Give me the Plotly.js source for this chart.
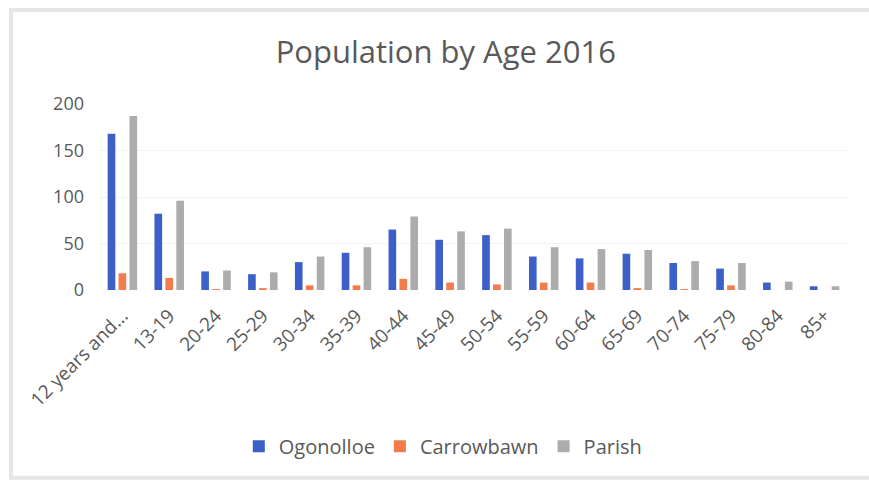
<!DOCTYPE html>
<html>
<head>
<meta charset="utf-8">
<script src="https://cdn.plot.ly/plotly-3.0.1.min.js"></script>
<style>
html,body{margin:0;padding:0;background:#ffffff;}
#chart{width:869px;height:481px;}
</style>
</head>
<body>
<div id="chart"></div>
<script>
const categories = ["12 years and...","13-19","20-24","25-29","30-34","35-39","40-44","45-49","50-54","55-59","60-64","65-69","70-74","75-79","80-84","85+"];
const ogonolloe  = [168, 82, 20, 17, 30, 40, 65, 54, 59, 36, 34, 39, 29, 23, 8, 4];
const carrowbawn = [18, 13, 1, 2, 5, 5, 12, 8, 6, 8, 8, 2, 1, 5, 0, 0];
const parish     = [187, 96, 21, 19, 36, 46, 79, 63, 66, 46, 44, 43, 31, 29, 9, 4];
const yTicks = [0, 50, 100, 150, 200];

const font = "'Open Sans', 'Noto Sans', sans-serif";
const textColor = "#595959";

const traces = [
  {type:"bar", name:"Ogonolloe", x:categories, y:ogonolloe, marker:{color:"#3c5fc8"}},
  {type:"bar", name:"Carrowbawn", x:categories, y:carrowbawn, marker:{color:"#f47b4b"}},
  {type:"bar", name:"Parish", x:categories, y:parish, marker:{color:"#acacac"}}
];

const layout = {
  width:869, height:481,
  paper_bgcolor:"#ffffff", plot_bgcolor:"#ffffff",
  margin:{l:99, r:21, t:104, b:191},
  barmode:"group", bargap:0.3, bargroupgap:0.3,
  title:{text:"Population by Age 2016", x:0.513, xanchor:"center", y:0.892, yanchor:"middle",
         font:{family:font, size:31, color:textColor}},
  xaxis:{type:"category", tickangle:-45, tickfont:{family:font, size:19, color:textColor},
         showgrid:false, zeroline:false, showline:false, ticks:"", ticklabelstandoff:10, automargin:false},
  yaxis:{range:[0,200], tickvals:yTicks, ticktext:yTicks.map(String),
         tickfont:{family:font, size:18, color:textColor},
         showgrid:true, gridcolor:"#f3f3f3", zeroline:false, showline:false, ticks:"",
         ticklabelstandoff:14, automargin:false},
  showlegend:true,
  legend:{orientation:"h", x:0.459, xanchor:"center", y:-0.84, yanchor:"middle",
          font:{family:font, size:20, color:textColor}, bgcolor:"rgba(0,0,0,0)",
          itemwidth:30, tracegroupgap:0},
  shapes:[
    {type:"rect", xref:"paper", yref:"paper", x0:-0.1175, x1:1.1, y0:-1.01, y1:1.505,
     line:{color:"#e6e6e6", width:4}, fillcolor:"rgba(0,0,0,0)"}
  ]
};

Plotly.newPlot("chart", traces, layout, {displayModeBar:false, staticPlot:true});
</script>
</body>
</html>
